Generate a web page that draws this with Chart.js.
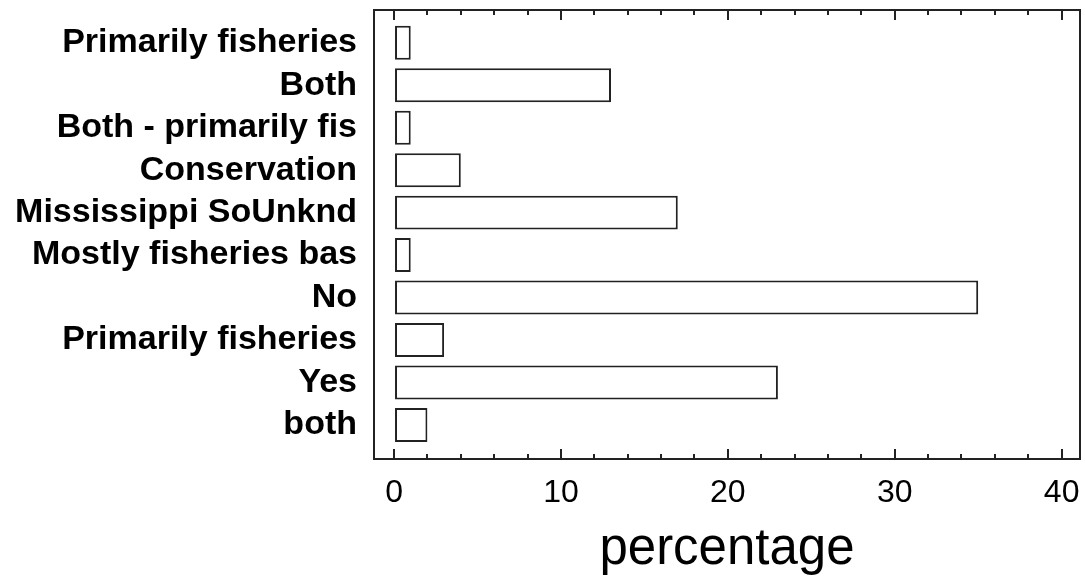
<!DOCTYPE html>
<html>
<head>
<meta charset="utf-8">
<script src="https://cdn.jsdelivr.net/npm/chart.js"></script>
<style>
  html, body { margin: 0; padding: 0; background: #fff; }
  #chart { display: block; }
</style>
</head>
<body>
<canvas id="chart" width="1085" height="582"></canvas>
<script>
// data
const categories = [
  "Primarily fisheries",
  "Both",
  "Both - primarily fis",
  "Conservation",
  "Mississippi SoUnknd",
  "Mostly fisheries bas",
  "No",
  "Primarily fisheries",
  "Yes",
  "both",
];
const percentages = [1, 13, 1, 4, 17, 1, 35, 3, 23, 2];
const xTicks = [0, 10, 20, 30, 40];
const minorStep = 2;
const axisTitle = "percentage";

const lineColor = "#222";
const family = "'Liberation Sans', Arial, sans-serif";

// drop the edge padding Chart.js reserves for overflowing labels
function noEdgePadding(s) {
  s.paddingTop = 0;
  s.paddingBottom = 0;
  s.paddingLeft = 0;
  s.paddingRight = 0;
}

// short inward ticks between the labelled ones, top and bottom
const minorTicks = {
  id: "minorTicks",
  afterDraw(chart) {
    const xs = chart.scales.x;
    const area = chart.chartArea;
    const ctx = chart.ctx;
    ctx.save();
    ctx.strokeStyle = lineColor;
    ctx.lineWidth = 2;
    ctx.beginPath();
    for (let v = xTicks[0]; v <= xTicks[xTicks.length - 1]; v += minorStep) {
      if (xTicks.includes(v)) continue;
      const px = Math.round(xs.getPixelForValue(v));
      ctx.moveTo(px, area.bottom);
      ctx.lineTo(px, area.bottom - 5);
      ctx.moveTo(px, area.top);
      ctx.lineTo(px, area.top + 5);
    }
    ctx.stroke();
    ctx.restore();
  },
};

new Chart(document.getElementById("chart"), {
  type: "bar",
  data: {
    datasets: [
      {
        label: axisTitle,
        data: percentages.map((v, i) => ({ x: v, y: i })),
        backgroundColor: "#fff",
        borderColor: lineColor,
        borderWidth: 2,
        borderSkipped: false,
        barPercentage: 0.8,
        categoryPercentage: 1,
      },
    ],
  },
  options: {
    indexAxis: "y",
    responsive: false,
    animation: false,
    layout: { padding: 0, autoPadding: false },
    plugins: {
      legend: { display: false },
      tooltip: { enabled: false },
    },
    scales: {
      x: {
        type: "linear",
        position: "bottom",
        min: -1.2,
        max: 41.1,
        afterBuildTicks: (s) => { s.ticks = xTicks.map((v) => ({ value: v })); },
        afterFit: (s) => { s.height = 123; noEdgePadding(s); },
        ticks: {
          color: "#000",
          padding: 25,
          font: { family: family, size: 32 },
        },
        grid: {
          drawOnChartArea: false,
          color: lineColor,
          lineWidth: 2,
          tickLength: -10,
        },
        border: { color: lineColor, width: 2 },
        title: {
          display: true,
          text: axisTitle,
          color: "#000",
          font: { family: family, size: 51 },
          padding: { top: 0, bottom: 1 },
        },
      },
      x2: {
        type: "linear",
        position: "top",
        min: -1.2,
        max: 41.1,
        afterBuildTicks: (s) => { s.ticks = xTicks.map((v) => ({ value: v })); },
        afterFit: (s) => { s.height = 10; noEdgePadding(s); },
        ticks: { display: false },
        grid: {
          drawOnChartArea: false,
          color: lineColor,
          lineWidth: 2,
          tickLength: -10,
        },
        border: { color: lineColor, width: 2 },
      },
      y: {
        type: "linear",
        position: "left",
        reverse: true,
        offset: false,
        min: -0.77,
        max: 9.8,
        afterBuildTicks: (s) => { s.ticks = categories.map((c, i) => ({ value: i })); },
        afterFit: (s) => { s.width = 374; noEdgePadding(s); },
        ticks: {
          color: "#000",
          padding: 17,
          autoSkip: false,
          font: { family: family, size: 34, weight: "bold" },
          callback: (v) => categories[v],
        },
        grid: { offset: false, drawOnChartArea: false, drawTicks: false },
        border: { color: lineColor, width: 2 },
      },
      y2: {
        type: "linear",
        position: "right",
        min: 0,
        max: 1,
        afterFit: (s) => { s.width = 5; noEdgePadding(s); },
        ticks: { display: false },
        grid: { drawOnChartArea: false, drawTicks: false },
        border: { color: lineColor, width: 2 },
      },
    },
  },
  plugins: [minorTicks],
});
</script>
</body>
</html>
